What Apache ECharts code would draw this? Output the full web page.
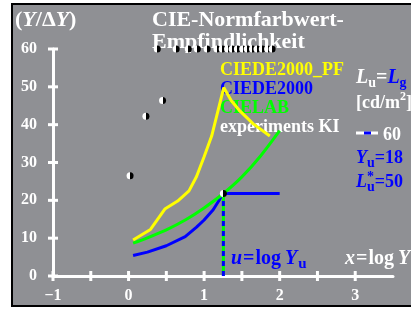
<!DOCTYPE html>
<html>
<head>
<meta charset="utf-8">
<script src="https://cdn.jsdelivr.net/npm/echarts@6/dist/echarts.min.js"></script>
<style>
  html, body { margin: 0; padding: 0; background: #ffffff; overflow: hidden; }
  .wrap { position: relative; width: 411px; height: 309px; }
  .panel {
    position: absolute; left: 11px; top: 3px; width: 420px; height: 300px;
    background: #8f9094; border: 2px solid #000000;
  }
  #chart { position: absolute; left: 0; top: 0; width: 411px; height: 309px; }
</style>
</head>
<body>
<div class="wrap">
  <div class="panel"></div>
  <div id="chart"></div>
</div>
<script>
// CIEDE2000_PF (yellow)
const yellowX = [0.06, 0.29, 0.48, 0.65, 0.8, 0.9, 1.0, 1.1, 1.26, 1.36, 1.48, 1.65, 1.87];
const yellowY = [9.5, 12.3, 17.7, 19.8, 22.5, 26.3, 31.5, 37.0, 49.8, 46.3, 43.5, 40.2, 37.0];
// CIELAB (green)
const greenX = [0.06, 0.25, 0.5, 0.75, 1.0, 1.255, 1.5, 1.75, 2.0];
const greenY = [8.7, 10.1, 12.2, 14.8, 18.0, 21.8, 26.2, 31.8, 38.4];
// CIEDE2000 (blue)
const blueX = [0.06, 0.25, 0.5, 0.75, 0.9, 1.0, 1.12, 1.255, 2.0];
const blueY = [5.4, 6.3, 8.0, 10.4, 12.9, 14.8, 17.5, 21.8, 21.8];
// u = log Yu marker line
const uX = [1.255, 1.255];
const uY = [0, 21.8];
// experiments KI
const dotX = [0.02, 0.23, 0.45, 0.38, 0.63, 0.79, 0.91, 1.04, 1.17, 1.24, 1.31, 1.37, 1.44, 1.51, 1.57, 1.64, 1.70, 1.77, 1.84, 1.90, 1.255];
const dotY = [26.5, 42.2, 46.4, 60, 60, 60, 60, 60, 60, 60, 60, 60, 60, 60, 60, 60, 60, 60, 60, 60, 21.8];

// axis ticks (cross marks) and labelled values
const xTickVals = [-1, -0.5, 0, 0.5, 1, 1.5, 2, 2.5, 3];
const xLabelVals = [-1, 0, 1, 2, 3];
const yTickVals = [0, 10, 20, 30, 40, 50, 60];

const zip = (xs, ys) => xs.map((x, i) => [x, ys[i]]);

const chart = echarts.init(document.getElementById("chart"));

const FONT = '"Liberation Serif", "DejaVu Serif", serif';
const measure = document.createElement("canvas").getContext("2d");

// lay out text pieces one after another (sub/superscripts)
const textRun = (x, y, parts) => {
  const out = [];
  let cx = x;
  parts.forEach((p) => {
    const font = (p.it ? "italic " : "") + "bold " + (p.size || 18) + "px " + FONT;
    measure.font = font;
    cx += p.dx || 0;
    out.push({
      type: "text",
      x: cx,
      y: y + (p.dy || 0),
      style: { text: p.t, font: font, fill: p.c || "#ffffff", verticalAlign: "middle" }
    });
    if (!p.noAdvance) cx += measure.measureText(p.t).width;
  });
  return out;
};

const graphics = [
  ...textRun(15, 20, [
    { t: "(", size: 22 }, { t: "Y", size: 22, it: true }, { t: "/\u0394", size: 22 },
    { t: "Y", size: 22, it: true }, { t: ")", size: 22 }
  ]),
  ...textRun(152, 20, [{ t: "CIE-Normfarbwert-", size: 22 }]),
  ...textRun(152, 42, [{ t: "Empfindlichkeit", size: 22 }]),
  ...textRun(220, 70, [{ t: "CIEDE2000_PF", c: "#ffff00" }]),
  ...textRun(220, 89, [{ t: "CIEDE2000", c: "#0000ff" }]),
  ...textRun(220, 108, [{ t: "CIELAB", c: "#00ff00" }]),
  ...textRun(220, 127, [{ t: "experiments KI" }]),
  ...textRun(356, 78, [
    { t: "L", size: 20, it: true }, { t: "u", size: 14, dy: 5 }, { t: "=", size: 20 },
    { t: "L", size: 20, it: true, c: "#0000ff" }, { t: "g", size: 14, dy: 5, c: "#0000ff" }
  ]),
  ...textRun(356, 103, [{ t: "[cd/m" }, { t: "2", size: 12, dy: -6 }, { t: "]" }]),
  { type: "rect", shape: { x: 356, y: 131.5, width: 22, height: 3 }, style: { fill: "#ffffff" } },
  { type: "rect", shape: { x: 364, y: 131.5, width: 7, height: 3 }, style: { fill: "#0000ff" } },
  ...textRun(383, 135, [{ t: "60" }]),
  ...textRun(356, 158, [
    { t: "Y", it: true, c: "#0000ff" }, { t: "u", size: 14, dy: 5, c: "#0000ff" }, { t: "=18", c: "#0000ff" }
  ]),
  ...textRun(356, 182, [
    { t: "L", it: true, c: "#0000ff" }, { t: "*", size: 14, dy: -5, c: "#0000ff", noAdvance: true },
    { t: "u", size: 14, dy: 5, c: "#0000ff" }, { t: "=50", c: "#0000ff" }
  ]),
  ...textRun(231, 259, [
    { t: "u", size: 20, it: true, c: "#0000ff" }, { t: "=", size: 20, c: "#0000ff", dx: 1 },
    { t: "log", size: 20, c: "#0000ff", dx: 1 },
    { t: "Y", size: 20, it: true, c: "#0000ff", dx: 4 }, { t: "u", size: 15, dy: 5, c: "#0000ff", dx: 1 }
  ]),
  ...textRun(345, 259, [
    { t: "x", size: 20, it: true }, { t: "=", size: 20, dx: 1 }, { t: "log", size: 20, dx: 1 },
    { t: "Y", size: 20, it: true, dx: 4 }
  ])
];

const white = "#ffffff";
const labelStyle = { color: white, fontFamily: FONT, fontWeight: "bold", fontSize: 16 };

// left half white, right half black
const halfDot = new echarts.graphic.LinearGradient(0, 0, 1, 0, [
  { offset: 0, color: "#ffffff" },
  { offset: 0.5, color: "#ffffff" },
  { offset: 0.5, color: "#000000" },
  { offset: 1, color: "#000000" }
]);

const option = {
  animation: false,
  backgroundColor: "transparent",
  grid: { left: 53, right: 18, top: 49, bottom: 33 },
  xAxis: {
    type: "value", min: -1, max: 3.5, interval: 0.5,
    axisLine: { show: true, onZero: false, lineStyle: { color: white, width: 3 } },
    axisTick: { show: false },
    axisLabel: {
      ...labelStyle, margin: 12,
      formatter: (v) => (xLabelVals.includes(v) ? String(v).replace("-", "\u2212") : "")
    },
    splitLine: { show: false }
  },
  yAxis: {
    type: "value", min: 0, max: 60, interval: 10,
    axisLine: { show: true, onZero: false, lineStyle: { color: white, width: 3 } },
    axisTick: { show: false },
    axisLabel: { ...labelStyle, margin: 16 },
    splitLine: { show: false }
  },
  series: [
    {
      type: "scatter", data: xTickVals.map((v) => [v, 0]), symbol: "rect", clip: false,
      symbolSize: [3, 10], itemStyle: { color: white, opacity: 1 }, silent: true, z: 1
    },
    {
      type: "scatter", data: yTickVals.map((v) => [-1, v]), symbol: "rect", clip: false,
      symbolSize: [10, 3], itemStyle: { color: white, opacity: 1 }, silent: true, z: 1
    },
    {
      type: "line", data: zip(blueX, blueY), showSymbol: false,
      lineStyle: { color: "#0000ff", width: 3 }
    },
    {
      type: "line", data: zip(greenX, greenY), showSymbol: false, smooth: 0.3,
      lineStyle: { color: "#00ff00", width: 3 }
    },
    {
      type: "line", data: zip(yellowX, yellowY), showSymbol: false,
      lineStyle: { color: "#ffff00", width: 3 }
    },
    {
      type: "line", data: zip(uX, uY), showSymbol: false, z: 3,
      lineStyle: { color: "#00ff00", width: 3 }
    },
    {
      type: "line", data: zip(uX, uY), showSymbol: false, z: 3,
      lineStyle: { color: "#0000ff", width: 3, type: [5, 5] }
    },
    {
      type: "scatter", data: zip(dotX, dotY), symbol: "circle", symbolSize: 7, z: 5,
      clip: false, itemStyle: { color: halfDot, opacity: 1 }
    }
  ],
  graphic: graphics
};

chart.setOption(option);
window.addEventListener("resize", () => chart.resize());
</script>
</body>
</html>
